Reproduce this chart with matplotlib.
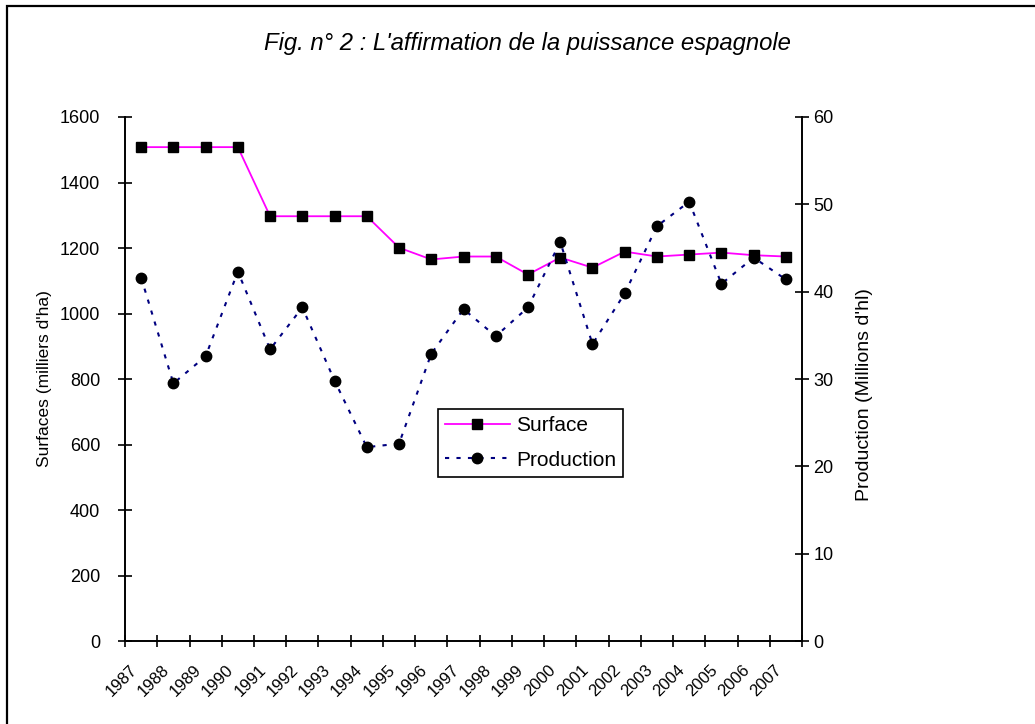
import numpy as np
import matplotlib.pyplot as plt
from matplotlib.patches import Rectangle
from matplotlib.lines import Line2D

plt.rcParams['font.family'] = ['Liberation Sans', 'DejaVu Sans']

years = [str(y) for y in range(1987, 2008)]
surface = [1508, 1508, 1508, 1508, 1297, 1297, 1297, 1297, 1201, 1165, 1174,
           1174, 1119, 1171, 1140, 1189, 1174, 1180, 1186, 1178, 1174]
production = [41.6, 29.5, 32.6, 42.3, 33.4, 38.2, 29.8, 22.2, 22.6, 32.9, 38.0,
              34.9, 38.2, 45.7, 34.0, 39.8, 47.5, 50.3, 40.9, 43.9, 41.4]

fig = plt.figure(figsize=(10.35, 7.24), dpi=100)
fig.patches.append(Rectangle((0.0068, -0.02), 1.1, 1.0117, transform=fig.transFigure,
                             fill=False, edgecolor='black', linewidth=1.6))

ax = fig.add_axes([0.1208, 0.1146, 0.6541, 0.7238])
ax2 = ax.twinx()

x = np.arange(len(years))
ax.plot(x, surface, color='#FF00FF', lw=1.3, marker='s', ms=6.5,
        mfc='black', mec='black', zorder=3)
ax2.plot(x, production, color='#000080', lw=1.5, ls=(0, (2, 3.5)), marker='o', ms=7.5,
         mfc='black', mec='black', zorder=3)

ax.set_xlim(-0.5, len(years) - 0.5)
ax.set_ylim(0, 1600)
ax.set_yticks(range(0, 1601, 200))
ax2.set_ylim(0, 60)
ax2.set_yticks(range(0, 61, 10))

# boundary ticks, labels sit a bit left of each category centre (like Excel)
ax.set_xticks(np.arange(-0.5, len(years), 1))
ax.set_xticklabels([])
ax.set_xticks(x - 0.37, minor=True)
ax.set_xticklabels(years, minor=True, rotation=45, ha='right', rotation_mode='anchor',
                   fontsize=12)
ax.tick_params(axis='x', which='minor', length=0, pad=15)
ax.tick_params(axis='x', which='major', direction='inout', length=9, width=1.2)
ax.tick_params(axis='y', direction='inout', length=10, width=1.2, labelsize=13, pad=13)
ax2.tick_params(axis='y', direction='inout', length=10, width=1.2, labelsize=13, pad=3)

for a in (ax, ax2):
    a.spines['top'].set_visible(False)
    for s in ('left', 'right', 'bottom'):
        a.spines[s].set_linewidth(1.2)

ax.set_ylabel("Surfaces (milliers d'ha)", fontsize=12.5)
ax.yaxis.set_label_coords(-0.108, 0.5)
ax2.set_ylabel("Production (Millions d'hl)", fontsize=14)
ax2.yaxis.set_label_coords(1.0797, 0.47)

fig.text(0.51, 0.94, "Fig. n\u00b0 2 : L'affirmation de la puissance espagnole",
         ha='center', va='center', fontsize=17.2, style='italic')

handles = [
    Line2D([], [], color='#FF00FF', lw=1.3, marker='s', ms=6.5, mfc='black', mec='black'),
    Line2D([], [], color='#000080', lw=1.5, ls=(0, (2, 3.5)), marker='o', ms=7.5,
           mfc='black', mec='black'),
]
leg = ax2.legend(handles, ['Surface', 'Production'], loc='lower left',
                 bbox_to_anchor=(0.462, 0.313), fontsize=15, frameon=True,
                 fancybox=False, edgecolor='black', framealpha=1,
                 handlelength=3.1, borderpad=0.35, labelspacing=0.74, handletextpad=0.3,
                 borderaxespad=0)
leg.get_frame().set_linewidth(1.2)

fig.savefig('out.png', dpi=100)
